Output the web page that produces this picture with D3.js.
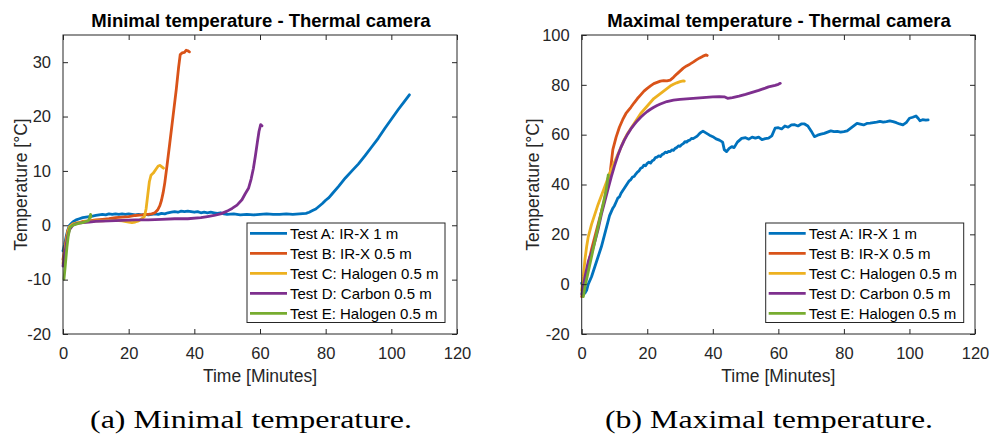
<!DOCTYPE html>
<html><head><meta charset="utf-8">
<script src="https://cdn.jsdelivr.net/npm/d3@7"></script>
<style>
html,body{margin:0;padding:0;background:#fff;}
svg{display:block;}
</style></head>
<body>
<svg id="chart" width="991" height="435"></svg>
<script>
// ---- data ----
const seriesNames = ["Test A: IR-X 1 m","Test B: IR-X 0.5 m","Test C: Halogen 0.5 m","Test D: Carbon 0.5 m","Test E: Halogen 0.5 m"];
const seriesColors = ["#0072BD","#D95319","#EDB120","#7E2F8E","#77AC30"];
const xTicks = [0,20,40,60,80,100,120];
const yTicksMin = [-20,-10,0,10,20,30];
const yTicksMax = [-20,0,20,40,60,80,100];

// Minimal temperature [time(min), temp(°C)]
const minA = [[0,-4.7],[0.5,-3.5],[1,-2],[1.5,-0.8],[2,0],[3,0.6],[4,1],[5,1.2],[6,1.4],[7,1.5],[8,1.6],[9,1.7],[10,1.8],[11,1.9],[12,2],[13,1.9],[14,2.1],[15,2],[16,2.1],[17,2],[18,2.1],[19,2],[20,2.1],[21,2],[22,1.9],[23,2],[24,1.9],[25,2],[26,1.9],[27,2],[28,2.1],[29,2],[30,2.2],[31,2.1],[32,2.3],[33,2.4],[34,2.5],[35,2.4],[36,2.6],[37,2.5],[38,2.6],[39,2.5],[40,2.4],[41,2.5],[42,2.3],[43,2.4],[44,2.3],[45,2.4],[46,2.3],[47,2.2],[48,2.3],[49,2.1],[50,2.0],[52,2.1],[54,1.9],[56,2.0],[58,1.9],[60,2.0],[62,2.1],[64,2.0],[66,2.0],[68,2.1],[70,2.0],[72,2.1],[74,2.2],[75,2.4],[76,2.7],[77,3],[78,3.5],[79,4],[80,4.6],[81,5.1],[82,5.8],[84,7.2],[86,8.7],[88,10],[90,11.3],[92,12.8],[94,14.4],[96,16],[98,17.8],[100,19.5],[102,21.2],[104,22.8],[105.5,24]];
const minB = [[0,-6.3],[0.5,-4.5],[1,-2.5],[1.5,-1],[2,-0.3],[3,0.2],[4,0.4],[5,0.5],[6,0.7],[8,0.8],[10,1.0],[12,1.1],[14,1.2],[16,1.4],[18,1.5],[20,1.6],[22,1.8],[24,1.9],[25,2.0],[26,2.0],[27,2.1],[28,2.3],[28.8,2.8],[29.5,3.6],[30,4.6],[30.5,6],[31,7.8],[31.6,10.6],[32.5,15],[33.5,20],[34.5,25],[35.2,29],[35.7,31.4],[36.3,31.7],[37,31.8],[37.5,32.2],[38,32.1],[38.5,31.9]];
const minC = [[0,-7],[0.5,-5],[1,-3],[1.5,-1.2],[2,-0.3],[3,0.2],[4,0.4],[6,0.6],[8,0.7],[10,0.8],[12,0.8],[14,0.9],[16,0.9],[18,0.8],[20,0.6],[21,0.5],[22,0.6],[23,0.8],[24,1.2],[24.8,1.6],[25.3,3],[25.8,5.5],[26.3,8],[26.8,9.2],[27.5,9.6],[28.3,10.3],[29,10.9],[29.6,11],[30.2,10.7],[30.6,10.5]];
const minD = [[0,-7.5],[0.5,-5.5],[1,-3.5],[1.5,-1.8],[2,-0.8],[3,0],[4,0.3],[6,0.5],[8,0.6],[10,0.7],[14,0.8],[18,0.9],[22,1.0],[26,1.0],[30,1.1],[34,1.2],[38,1.2],[42,1.4],[44,1.6],[46,1.8],[48,2.1],[50,2.6],[51.5,3.1],[53,3.7],[54.5,4.7],[55.5,5.8],[56.5,6.8],[57.3,8.5],[58,10.5],[58.6,12.8],[59.2,15.3],[59.7,17.3],[60.2,18.5],[60.6,18.3]];
const minE = [[0.3,-9.9],[0.6,-8],[0.9,-6],[1.2,-4],[1.6,-2],[2.1,-0.4],[3,0],[4,0.2],[5,0.4],[6,0.5],[7,0.7],[7.7,0.8],[8.1,1.3],[8.4,2.0],[8.5,1.5]];

// Maximal temperature [time(min), temp(°C)]
const maxA = [[0,0.4],[0.5,-1.5],[1,-3.6],[1.5,-2.5],[2,0],[3,3],[4,7],[5,11],[6,15],[7,20],[8,25],[8.5,27.5],[9,29],[9.5,30.5],[10,31.5],[10.5,33],[11,34.5],[11.5,35],[12,36.5],[12.5,37.5],[13,38.5],[13.5,39.5],[14,40.5],[14.5,41.5],[15,42],[15.5,43],[16,43.2],[16.5,44.2],[17,45],[17.5,45.5],[18,46.5],[18.5,46.8],[19,47.8],[19.5,47.5],[20,48.5],[20.5,49],[21,48.6],[21.5,49.5],[22,49.8],[22.5,50.8],[23,51],[23.5,51.5],[24,51.2],[24.5,52],[25,52.3],[25.5,53],[26,52.8],[26.5,53.3],[27,53.2],[27.5,53.9],[28,53.7],[28.5,54.5],[29,54.8],[29.5,55.5],[30,55.3],[30.5,56],[31,56.4],[31.5,57.2],[32,57],[32.5,57.6],[33,57.8],[33.5,58.5],[34,58.4],[34.5,58.8],[35,59.2],[35.5,59.8],[36,60.5],[36.5,61],[37,61.4],[37.5,61],[38,60.6],[39,59.8],[40,59.2],[41,58.3],[42,57.8],[43,57],[43.5,54],[44.2,53.2],[45,54.5],[45.8,55.2],[46.5,54.8],[47.5,57],[48.8,58.5],[50,58.8],[51,58.2],[52,59],[53,58.6],[54,59],[55,58],[56,58.4],[57,58.6],[58,59.5],[59,62.6],[60,62.8],[61,62.3],[62,63.5],[63,63],[64,63.9],[65,64],[66,63.5],[67,64.3],[68,64.3],[69,63.5],[70,61.5],[71,59.2],[72,59.8],[73,60.2],[74,60.5],[75,61],[76,61.5],[77,61.2],[78,61.3],[79,61],[80,61.2],[81,61.5],[82,62.5],[83,63.5],[84,64.5],[85,64.2],[86,63.9],[87,64.5],[88,64.6],[89,64.8],[90,65],[91,65.3],[92,65],[93,65.2],[94,65.5],[95,65.2],[96,64.8],[97,64.3],[98,63.9],[99,64.8],[100,66.6],[101,67],[102,67.5],[102.7,66.5],[103.2,65.6],[104,66],[105,65.8],[105.7,65.9]];
const maxB = [[0,-5],[0.5,-3],[1,0],[2,8],[3,14],[4,19],[5,24],[6,29],[7,34],[8,42],[8.7,45],[9.5,54],[10.5,59],[11.5,63],[12.5,66],[13.5,68.5],[15,71],[16,72.8],[17,74.5],[18,76],[19,77.5],[20,78.6],[21,79.6],[22,80.5],[23,81],[24,81.5],[25,81.7],[26,81.6],[27,81.9],[28,83],[29,84.3],[30,85.5],[31,86.7],[32,87.6],[33,88.3],[34,89.1],[35,90],[36,90.8],[37,91.5],[38,92],[38.3,91.8]];
const maxC = [[0,-2.5],[0.5,3],[1,10],[1.5,15],[2,19],[3,24],[4,28],[5,32],[6,35.5],[7,39],[8,42.5],[9,46],[10,49],[11,52],[12,55],[13,58],[14,60.5],[15,62.5],[16,64.5],[17,66.5],[18,68.5],[19,70],[20,71.5],[21,73],[22,74.5],[23,75.5],[24,76.5],[25,77.5],[26,78.5],[27,79.5],[28,80.2],[29,80.8],[30,81.3],[31,81.6],[31.3,81.5]];
const maxD = [[0,-4],[0.5,-1],[1,3],[2,9],[2.5,11],[3,12.5],[4,17],[5,22],[6,28],[7,33],[8,38],[9,43],[10,47.5],[11,51.5],[12,55],[13,57.8],[14,60.2],[15,62.3],[16,64],[17,65.6],[18,67],[19,68.2],[20,69.3],[21,70.2],[22,71],[23,71.7],[24,72.3],[25,72.8],[26,73.3],[27,73.6],[28,73.9],[30,74.2],[32,74.4],[34,74.6],[36,74.8],[38,75],[40,75.2],[42,75.3],[43.5,75.2],[44.5,74.6],[46,74.9],[48,75.5],[50,76.2],[52,77],[54,77.8],[56,78.7],[57,79.2],[58,79.5],[59,79.8],[60,80.2],[60.6,80.6]];
const maxE = [[0.5,-5],[1,-1],[2,5],[3,11],[4,17],[5,23],[6,29],[7,35],[7.5,38],[8.1,43.8]];

const minSeries = [minA,minB,minC,minD,minE];
const maxSeries = [maxA,maxB,maxC,maxD,maxE];

// ---- drawing ----
const svg = d3.select("#chart");
const FONT = "'Liberation Sans', Arial, Helvetica, sans-serif";
const AX = "#262626";

function panel(cfg){
  const g = svg.append("g");
  const x = d3.scaleLinear().domain([0,120]).range([cfg.left, cfg.right]);
  const y = d3.scaleLinear().domain(cfg.yDomain).range([cfg.bottom, cfg.top]);

  // lines
  const line = d3.line().x(d=>x(d[0])).y(d=>y(d[1]));
  cfg.series.forEach((s,i)=>{
    g.append("path").datum(s).attr("d",line)
      .attr("fill","none").attr("stroke",seriesColors[i])
      .attr("stroke-width",2.8).attr("stroke-linejoin","round").attr("stroke-linecap","round");
  });

  // axes (inward ticks on all four sides)
  const fmt = v => String(v);
  const xb = g.append("g").attr("transform",`translate(0,${cfg.bottom})`)
    .call(d3.axisBottom(x).tickValues(xTicks).tickSize(-5).tickPadding(13).tickFormat(fmt));
  const xt = g.append("g").attr("transform",`translate(0,${cfg.top})`)
    .call(d3.axisTop(x).tickValues(xTicks).tickSize(-5).tickFormat(""));
  const yl = g.append("g").attr("transform",`translate(${cfg.left},0)`)
    .call(d3.axisLeft(y).tickValues(cfg.yTicks).tickSize(-5).tickPadding(12).tickFormat(fmt));
  const yr = g.append("g").attr("transform",`translate(${cfg.right},0)`)
    .call(d3.axisRight(y).tickValues(cfg.yTicks).tickSize(-5).tickFormat(""));
  [xb,xt,yl,yr].forEach(a=>{
    a.select(".domain").remove();
    a.selectAll("line").attr("stroke",AX).attr("stroke-width",1);
    a.selectAll("text").attr("fill",AX).style("font-family",FONT).style("font-size","16.5px");
  });
  g.append("rect").attr("x",cfg.left).attr("y",cfg.top)
    .attr("width",cfg.right-cfg.left).attr("height",cfg.bottom-cfg.top)
    .attr("fill","none").attr("stroke",AX).attr("stroke-width",1);

  // title
  g.append("text").attr("x",cfg.titleX).attr("y",27).attr("text-anchor","middle")
    .style("font-family",FONT).style("font-size","18.5px").style("font-weight","bold")
    .attr("fill","#000").text(cfg.title);
  // x label
  g.append("text").attr("x",(cfg.left+cfg.right)/2).attr("y",382).attr("text-anchor","middle")
    .style("font-family",FONT).style("font-size","17.5px").attr("fill",AX).text("Time [Minutes]");
  // y label
  g.append("text").attr("transform",`translate(${cfg.yLabelX},${(cfg.top+cfg.bottom)/2}) rotate(-90)`)
    .attr("text-anchor","middle").style("font-family",FONT).style("font-size","17.5px")
    .attr("fill",AX).text("Temperature [°C]");

  // legend
  const lg = g.append("g");
  lg.append("rect").attr("x",cfg.legX).attr("y",223).attr("width",198).attr("height",99.5)
    .attr("fill","#fff").attr("stroke",AX).attr("stroke-width",1);
  seriesNames.forEach((n,i)=>{
    const cy = 233.3 + i*20;
    lg.append("line").attr("x1",cfg.legX+3).attr("x2",cfg.legX+40).attr("y1",cy).attr("y2",cy)
      .attr("stroke",seriesColors[i]).attr("stroke-width",2.8);
    lg.append("text").attr("x",cfg.legX+43).attr("y",cy+5.3)
      .style("font-family",FONT).style("font-size","15px").attr("fill","#000").text(n);
  });

  // caption
  g.append("text").attr("x",cfg.capX).attr("y",428).attr("text-anchor","middle")
    .attr("textLength",cfg.capW).attr("lengthAdjust","spacingAndGlyphs")
    .style("font-family","'Liberation Serif','Times New Roman',serif").style("font-size","25px")
    .attr("fill","#000").text(cfg.caption);
}

panel({left:63,right:457,top:35,bottom:334,yDomain:[-20,35],yTicks:yTicksMin,series:minSeries,
  title:"Minimal temperature - Thermal camera",titleX:261,yLabelX:27,legX:247,
  caption:"(a) Minimal temperature.",capX:251,capW:322});
panel({left:581.7,right:975,top:35,bottom:334,yDomain:[-20,100],yTicks:yTicksMax,series:maxSeries,
  title:"Maximal temperature - Thermal camera",titleX:779,yLabelX:539,legX:765.7,
  caption:"(b) Maximal temperature.",capX:769,capW:328});
</script>
</body></html>
